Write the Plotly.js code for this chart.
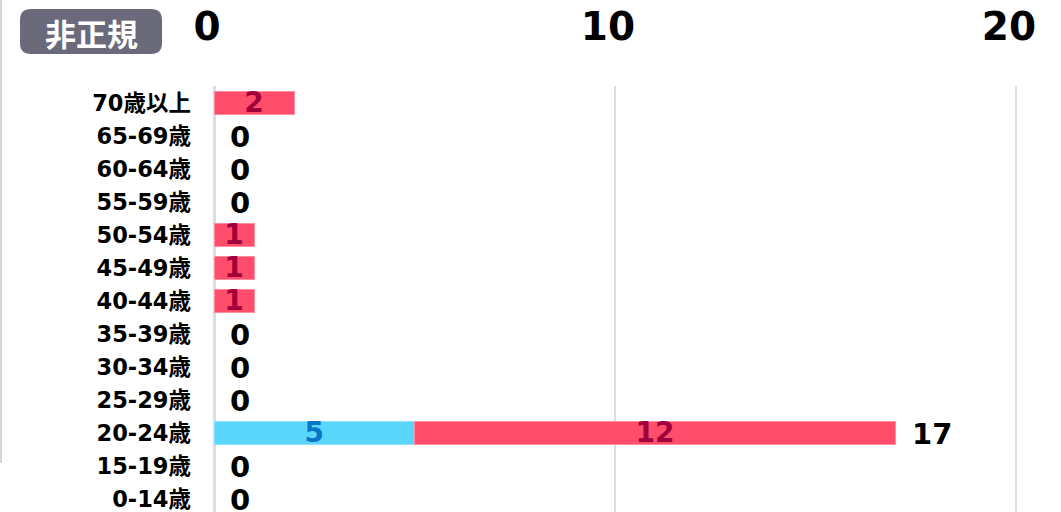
<!DOCTYPE html>
<html>
<head>
<meta charset="utf-8">
<script src="https://cdn.plot.ly/plotly-3.0.1.min.js"></script>
<style>
html,body{margin:0;padding:0;background:#fff;}
#chart{width:1061px;height:512px;}
</style>
</head>
<body>
<div id="chart"></div>
<script>
// ---- data ----
const categories = ['0-14歳','15-19歳','20-24歳','25-29歳','30-34歳','35-39歳','40-44歳','45-49歳','50-54歳','55-59歳','60-64歳','65-69歳','70歳以上'];
const blueValues = [0,0,5,0,0,0,0,0,0,0,0,0,0];
const redValues  = [0,0,12,0,0,0,1,1,1,0,0,0,2];
const xTickValues = [0,10,20];
const xTickLabels = ['0','10','20'];
const badgeLabel = '非正規';

// ---- layout geometry ----
const W = 1061, H = 512;
const M = {l:214, r:43, t:86, b:0};
const PW = W - M.l - M.r, PH = H - M.t - M.b;
const px = v => (v - M.l) / PW;
const py = v => (H - M.b - v) / PH;

const totals = categories.map((c,i) => blueValues[i] + redValues[i]);
const numFont = 'DejaVu Sans, Verdana, sans-serif';

const traces = [
  {
    type:'bar', orientation:'h', y:categories, x:blueValues,
    marker:{color:'#5ad6fd', line:{color:'#8fe3fd', width:blueValues.map(v => v > 0 ? 1 : 0)}},
    text: blueValues.map(v => v > 0 ? String(v) : ''),
    textposition:'inside', insidetextanchor:'middle', textangle:0,
    constraintext:'none',
    textfont:{family:numFont, size:28, color:'#0b74c4', weight:'bold'},
    hoverinfo:'none'
  },
  {
    type:'bar', orientation:'h', y:categories, x:redValues,
    marker:{color:'#ff4d6b', line:{color:'#ff8ea0', width:redValues.map(v => v > 0 ? 1 : 0)}},
    text: redValues.map(v => v > 0 ? String(v) : ''),
    textposition:'inside', insidetextanchor:'middle', textangle:0,
    constraintext:'none',
    textfont:{family:numFont, size:28, color:'#a0003c', weight:'bold'},
    hoverinfo:'none'
  }
];

const annotations = [];
categories.forEach((c,i) => {
  const both = blueValues[i] > 0 && redValues[i] > 0;
  if (totals[i] === 0 || both) {
    annotations.push({
      x: totals[i], y: c, xref:'x', yref:'y',
      text: String(totals[i]), showarrow:false,
      xanchor:'left', yanchor:'middle', xshift:14, yshift:-1,
      font:{family:numFont, size:29, color:'#000', weight:'bold'}
    });
  }
});

// badge
const bx0 = 20, bx1 = 162, by0 = 9, by1 = 54, r = 11;
const P = (x,y) => px(x) + ',' + py(y);
const badgePath = 'M' + P(bx0+r,by0) + ' L' + P(bx1-r,by0) + ' Q' + P(bx1,by0) + ' ' + P(bx1,by0+r) +
  ' L' + P(bx1,by1-r) + ' Q' + P(bx1,by1) + ' ' + P(bx1-r,by1) +
  ' L' + P(bx0+r,by1) + ' Q' + P(bx0,by1) + ' ' + P(bx0,by1-r) +
  ' L' + P(bx0,by0+r) + ' Q' + P(bx0,by0) + ' ' + P(bx0+r,by0) + ' Z';

annotations.push({
  x: px((bx0+bx1)/2), y: py((by0+by1)/2 + 1), xref:'paper', yref:'paper',
  text: badgeLabel, showarrow:false, xanchor:'center', yanchor:'middle',
  font:{family:'Noto Sans CJK JP, sans-serif', size:31, color:'#ffffff', weight:'bold'}
});

const shapes = [
  {type:'path', xref:'paper', yref:'paper', path: badgePath,
   fillcolor:'#6b6a7b', line:{width:0}, layer:'above'},
  {type:'line', xref:'paper', yref:'paper', x0:px(1), x1:px(1), y0:py(0), y1:py(463),
   line:{color:'#c8c8c8', width:1.5}}
];

const layout = {
  width:W, height:H,
  margin:M,
  paper_bgcolor:'#ffffff', plot_bgcolor:'#ffffff',
  barmode:'stack', bargap:0.33,
  showlegend:false,
  xaxis:{
    side:'top', range:[0,20.05], tickvals:xTickValues, ticktext:xTickLabels,
    showgrid:true, gridcolor:'#dedede', gridwidth:2,
    zeroline:true, zerolinecolor:'#dcdce4', zerolinewidth:3,
    showline:false, ticks:'',
    tickfont:{family:numFont, size:39, color:'#000', weight:'bold'},
    ticklabelshift:-7, ticklabelstandoff:37,
    fixedrange:true
  },
  yaxis:{
    type:'category', categoryorder:'array', categoryarray:categories,
    range:[-0.394, 12.515],
    showgrid:false, zeroline:false, showline:false, ticks:'',
    tickfont:{family:'DejaVu Sans, Noto Sans CJK JP, sans-serif', size:22.5, color:'#000', weight:'bold'},
    ticklabelstandoff:22,
    fixedrange:true
  },
  annotations: annotations,
  shapes: shapes
};

Plotly.newPlot('chart', traces, layout, {displayModeBar:false, staticPlot:true});
</script>
</body>
</html>
